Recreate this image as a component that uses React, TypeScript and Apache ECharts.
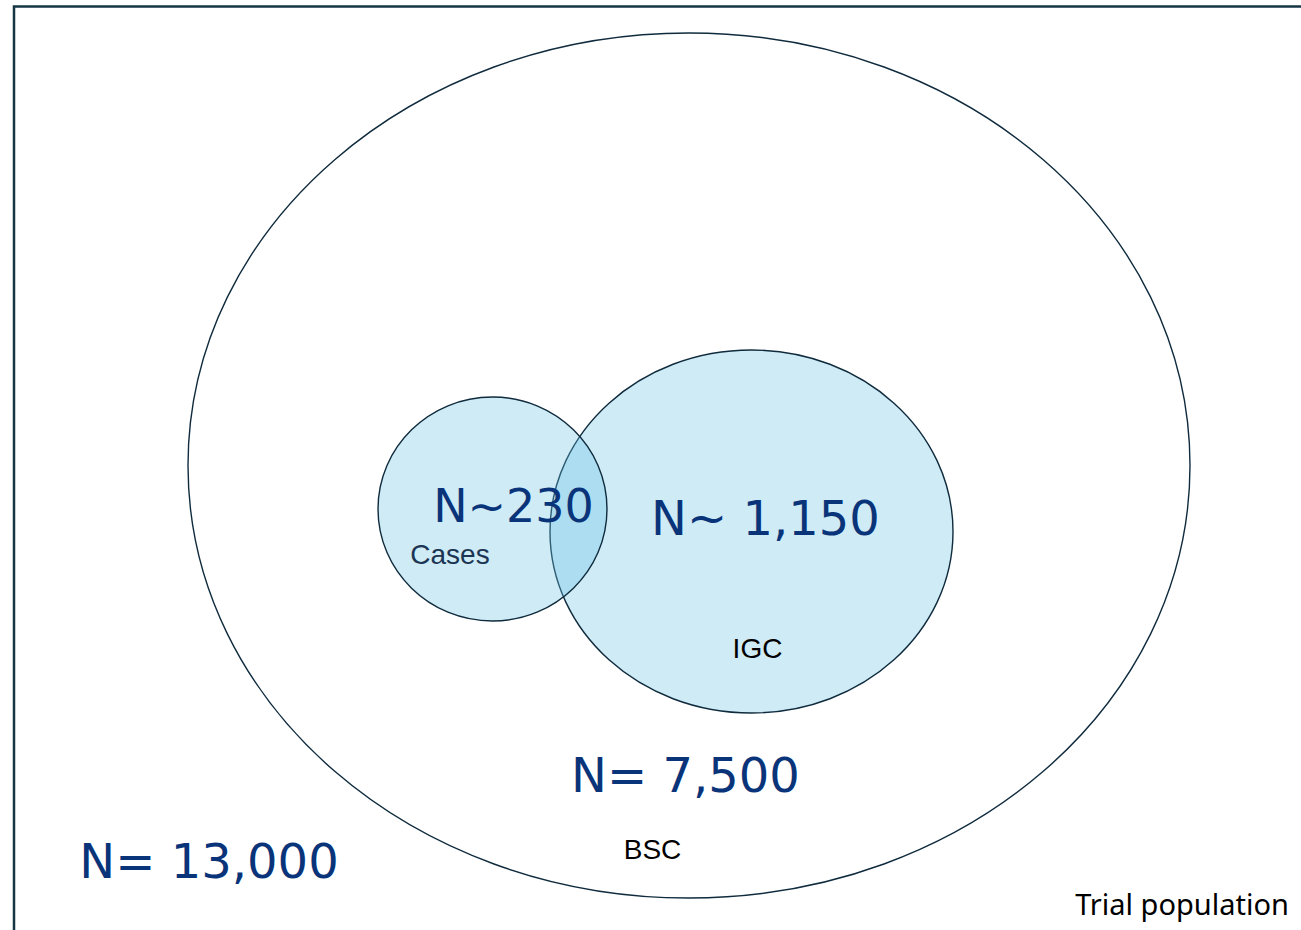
import React, { useEffect, useRef } from "react";
import * as echarts from "echarts";

// Population sets (ellipses), drawn in back-to-front order
const setNames = ["Trial population", "IGC", "Cases"];
const setCenterX = [689, 751.5, 492.5];
const setCenterY = [465.5, 531.5, 509];
const setRadiusX = [501, 201.5, 114.5];
const setRadiusY = [432.5, 181.5, 112];
const setFilled = [0, 1, 1];

// Count labels
const countTexts = ["N= 13,000", "N= 7,500", "N~ 1,150", "N~230"];
const countX = [209, 685.5, 765.5, 513.5];
const countY = [860.5, 774.5, 518, 505.5];
const countSizes = [48, 48, 48, 46];

// Group labels
const groupTexts = ["Trial population", "BSC", "IGC", "Cases"];
const groupX = [1182, 652.5, 757.5, 450];
const groupY = [903.5, 849, 648.5, 554.5];

export default function App() {
  const ref = useRef<HTMLDivElement>(null);
  useEffect(() => {
    document.body.style.margin = "0";
    const chart = echarts.init(ref.current!, null, { renderer: "svg" });
    const ellipseData = setNames.map((n, i) => ({
      name: n,
      value: [setCenterX[i], setCenterY[i], setRadiusX[i], setRadiusY[i], setFilled[i]],
    }));
    const countData = countTexts.map((t, i) => ({
      name: t,
      value: [countX[i], countY[i], countSizes[i]],
    }));
    const groupData = groupTexts.map((t, i) => ({
      name: t,
      value: [groupX[i], groupY[i], i],
    }));
    chart.setOption({
      animation: false,
      backgroundColor: "#ffffff",
      grid: { left: 0, right: 0, top: 0, bottom: 0 },
      xAxis: { type: "value", min: 0, max: 1301, show: false },
      yAxis: { type: "value", min: 0, max: 930, inverse: true, show: false },
      graphic: [
        {
          type: "rect",
          z: 100,
          shape: { x: 14, y: 6.5, width: 1400, height: 1000 },
          style: { fill: "none", stroke: "#163545", lineWidth: 2.5 },
          silent: true,
        },
      ],
      series: [
        {
          type: "custom",
          coordinateSystem: "cartesian2d",
          clip: false,
          silent: true,
          data: ellipseData,
          renderItem: (params: any, api: any) => {
            const c = api.coord([api.value(0), api.value(1)]);
            const s = api.size([api.value(2), api.value(3)]);
            const filled = api.value(4) === 1;
            return {
              type: "ellipse",
              shape: { cx: c[0], cy: c[1], rx: s[0], ry: s[1] },
              style: {
                fill: filled ? "rgba(105,194,228,0.33)" : "none",
                stroke: "#0f2b3d",
                lineWidth: 1.4,
              },
            };
          },
        },
        {
          type: "custom",
          coordinateSystem: "cartesian2d",
          clip: false,
          silent: true,
          z: 5,
          data: countData,
          renderItem: (params: any, api: any) => {
            const c = api.coord([api.value(0), api.value(1)]);
            return {
              type: "text",
              x: c[0],
              y: c[1],
              style: {
                text: countTexts[params.dataIndex],
                fill: "#0a347a",
                font: `${api.value(2)}px "DejaVu Sans"`,
                align: "center",
                verticalAlign: "middle",
              },
            };
          },
        },
        {
          type: "custom",
          coordinateSystem: "cartesian2d",
          clip: false,
          silent: true,
          z: 5,
          data: groupData,
          renderItem: (params: any, api: any) => {
            const c = api.coord([api.value(0), api.value(1)]);
            const i = params.dataIndex;
            const isTrial = i === 0;
            const isCases = i === 3;
            return {
              type: "text",
              x: c[0],
              y: c[1],
              style: {
                text: groupTexts[i],
                fill: isCases ? "#1b3553" : "#000000",
                font: isTrial
                  ? `29px "Noto Sans"`
                  : `28px "Liberation Sans"`,
                align: "center",
                verticalAlign: "middle",
              },
            };
          },
        },
      ],
    });
    return () => chart.dispose();
  }, []);
  return <div ref={ref} style={{ width: 1301, height: 930 }} />;
}
